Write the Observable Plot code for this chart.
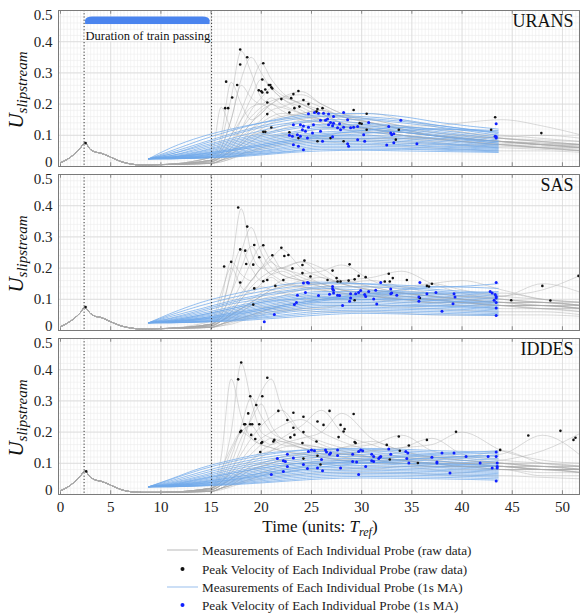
<!DOCTYPE html>
<html><head><meta charset="utf-8">
<script src="https://cdn.jsdelivr.net/npm/d3@7"></script>
<script src="https://cdn.jsdelivr.net/npm/@observablehq/plot@0.6"></script>
<style>
body{margin:0;background:#fff;}
#chart{width:580px;}
#chart svg{display:block;}
</style></head><body><div id="chart"></div><script>
const methods = ["URANS", "SAS", "IDDES"];
const passing = [2.35, 15.05];
const xTicks = [0, 5, 10, 15, 20, 25, 30, 35, 40, 45, 50];
const yTicks = [0, 0.1, 0.2, 0.3, 0.4, 0.5];
const legendLabels = [
  "Measurements of Each Individual Probe (raw data)",
  "Peak Velocity of Each Individual Probe (raw data)",
  "Measurements of Each Individual Probe (1s MA)",
  "Peak Velocity of Each Individual Probe (1s MA)"
];

// common early part of raw probe signals (nose passage)
const earlyT = [0, 1, 2, 2.4, 3, 3.5, 4, 5, 6, 7, 8, 10];
const early1 = [.012, .03, .06, .076, .054, .046, .043, .03, .016, .008, .005, .006];
const early2 = [.012, .03, .058, .074, .054, .045, .042, .028, .015, .008, .005, .006];
const early3 = [.012, .03, .06, .075, .055, .046, .043, .03, .016, .009, .007, .007];

// raw probe signals after the tail passes
const rawT = [15, 16, 17, 18, 19, 20, 21, 22, 24, 26, 28, 31, 34, 37, 40, 44, 48, 52];
const raw1 = [
  [.03,.08,.22,.37,.3,.22,.2,.19,.17,.15,.13,.11,.1,.09,.08,.07,.06,.05],
  [.03,.06,.15,.28,.35,.3,.25,.22,.18,.15,.13,.12,.1,.09,.08,.07,.06,.06],
  [.02,.05,.1,.18,.26,.33,.28,.24,.2,.17,.14,.12,.1,.09,.08,.07,.06,.05],
  [.03,.1,.27,.2,.15,.17,.2,.18,.15,.13,.12,.1,.09,.08,.07,.07,.06,.05],
  [.02,.06,.15,.26,.22,.2,.22,.2,.17,.14,.12,.11,.1,.09,.08,.07,.065,.06],
  [.02,.04,.08,.15,.22,.28,.25,.22,.19,.16,.14,.12,.1,.09,.085,.08,.07,.06],
  [.02,.04,.07,.12,.18,.22,.25,.23,.2,.17,.14,.12,.11,.1,.09,.08,.07,.065],
  [.02,.03,.06,.1,.14,.18,.2,.22,.24,.2,.17,.14,.12,.1,.09,.08,.07,.06],
  [.02,.03,.06,.1,.14,.17,.2,.22,.2,.18,.15,.13,.11,.1,.09,.08,.075,.07],
  [.015,.03,.05,.08,.12,.15,.18,.19,.21,.19,.16,.14,.12,.1,.09,.08,.07,.06],
  [.03,.19,.12,.1,.12,.14,.16,.17,.16,.15,.13,.12,.11,.1,.09,.08,.07,.07],
  [.015,.03,.05,.07,.1,.12,.14,.15,.17,.18,.16,.14,.12,.11,.1,.09,.08,.07],
  [.015,.025,.04,.06,.08,.1,.12,.13,.15,.16,.165,.17,.15,.13,.11,.1,.09,.08],
  [.01,.02,.04,.06,.08,.1,.11,.12,.14,.15,.16,.15,.13,.12,.11,.09,.08,.07],
  [.015,.03,.05,.07,.09,.11,.1,.1,.09,.09,.085,.08,.075,.07,.065,.06,.055,.05],
  [.01,.02,.04,.07,.1,.11,.125,.11,.1,.095,.09,.085,.08,.075,.07,.065,.06,.055],
  [.01,.02,.03,.05,.07,.08,.09,.1,.11,.12,.125,.13,.13,.13,.14,.15,.13,.1],
  [.01,.02,.03,.04,.06,.07,.08,.09,.1,.1,.105,.11,.11,.1,.095,.09,.085,.08],
  [.01,.015,.025,.04,.05,.06,.07,.08,.085,.09,.09,.09,.09,.09,.09,.095,.1,.09],
  [.01,.015,.025,.035,.045,.055,.06,.07,.075,.08,.075,.07,.065,.06,.055,.05,.05,.045],
  [.01,.02,.03,.04,.05,.06,.065,.07,.08,.085,.09,.09,.09,.085,.08,.075,.07,.065],
  [.02,.04,.08,.12,.16,.19,.21,.22,.23,.2,.17,.15,.13,.11,.1,.09,.08,.07],
  [.02,.05,.1,.15,.19,.2,.18,.16,.15,.14,.13,.12,.11,.1,.09,.08,.075,.07],
  [.015,.03,.05,.08,.11,.13,.15,.16,.17,.18,.16,.14,.12,.1,.09,.08,.07,.06]
];
const raw2 = [
  [.02,.06,.2,.39,.25,.2,.22,.18,.16,.14,.12,.11,.1,.09,.08,.08,.07,.06],
  [.02,.05,.12,.25,.33,.25,.2,.18,.16,.15,.13,.12,.11,.1,.09,.08,.08,.07],
  [.02,.07,.18,.26,.2,.16,.18,.2,.17,.15,.13,.11,.1,.09,.09,.08,.07,.07],
  [.02,.05,.12,.2,.27,.22,.18,.19,.16,.14,.13,.12,.11,.1,.09,.09,.08,.07],
  [.02,.04,.09,.15,.22,.27,.22,.2,.18,.15,.13,.12,.1,.1,.09,.08,.08,.07],
  [.03,.12,.2,.14,.12,.15,.17,.15,.14,.13,.12,.11,.1,.1,.09,.08,.08,.07],
  [.02,.1,.22,.18,.16,.2,.18,.16,.14,.13,.12,.11,.1,.09,.09,.08,.07,.07],
  [.02,.04,.08,.12,.16,.2,.23,.26,.2,.17,.15,.13,.12,.11,.1,.09,.08,.08],
  [.02,.04,.07,.11,.16,.2,.24,.2,.22,.18,.15,.13,.12,.11,.1,.09,.09,.08],
  [.02,.03,.06,.1,.14,.17,.19,.2,.22,.2,.16,.14,.12,.11,.1,.09,.08,.08],
  [.015,.03,.05,.08,.1,.12,.14,.16,.18,.19,.21,.16,.13,.12,.11,.1,.09,.08],
  [.015,.03,.05,.07,.09,.11,.13,.14,.15,.15,.16,.17,.19,.15,.12,.1,.09,.08],
  [.015,.03,.05,.07,.09,.11,.13,.14,.16,.17,.15,.13,.12,.11,.1,.09,.09,.08],
  [.015,.02,.04,.06,.08,.1,.11,.12,.13,.13,.14,.14,.14,.15,.13,.11,.1,.09],
  [.015,.03,.06,.1,.13,.14,.13,.12,.11,.11,.1,.1,.09,.09,.09,.08,.08,.07],
  [.01,.02,.04,.06,.08,.09,.1,.11,.13,.14,.15,.16,.14,.12,.11,.1,.09,.09],
  [.01,.02,.03,.05,.06,.07,.08,.09,.1,.1,.11,.11,.11,.1,.1,.11,.13,.18],
  [.01,.02,.03,.04,.05,.06,.07,.08,.09,.1,.1,.11,.12,.12,.11,.11,.15,.12],
  [.01,.02,.03,.04,.05,.06,.07,.07,.08,.09,.09,.09,.1,.1,.11,.12,.1,.09],
  [.01,.02,.03,.04,.05,.06,.07,.08,.09,.1,.11,.12,.13,.15,.16,.13,.1,.09],
  [.01,.015,.02,.03,.04,.05,.06,.06,.07,.07,.08,.08,.08,.08,.08,.07,.07,.06],
  [.01,.015,.025,.035,.045,.055,.06,.065,.07,.075,.08,.08,.075,.07,.065,.06,.06,.05],
  [.015,.03,.05,.07,.08,.075,.07,.065,.065,.06,.06,.06,.055,.05,.05,.05,.05,.045],
  [.015,.03,.05,.07,.09,.11,.12,.13,.14,.15,.16,.14,.12,.11,.1,.09,.09,.08]
];
const raw3 = [
  [.02,.07,.2,.42,.3,.2,.18,.16,.15,.13,.12,.11,.1,.09,.09,.08,.08,.07],
  [.02,.12,.37,.25,.18,.16,.15,.14,.13,.12,.11,.1,.1,.09,.09,.08,.08,.07],
  [.02,.04,.08,.15,.25,.33,.37,.28,.2,.16,.14,.12,.11,.1,.09,.09,.08,.07],
  [.02,.05,.12,.22,.31,.25,.2,.18,.16,.14,.13,.12,.11,.1,.1,.09,.08,.08],
  [.02,.04,.1,.18,.24,.29,.22,.18,.16,.15,.13,.12,.11,.1,.09,.09,.08,.08],
  [.02,.04,.08,.13,.18,.22,.25,.27,.2,.17,.15,.13,.12,.11,.1,.09,.09,.08],
  [.02,.06,.14,.2,.22,.18,.16,.17,.15,.14,.13,.12,.11,.1,.1,.09,.08,.08],
  [.02,.04,.07,.11,.15,.18,.2,.22,.24,.2,.17,.14,.12,.11,.1,.1,.09,.08],
  [.015,.03,.05,.08,.11,.14,.16,.18,.22,.27,.2,.16,.13,.12,.11,.1,.09,.09],
  [.015,.03,.05,.08,.1,.12,.14,.16,.18,.2,.26,.18,.14,.12,.11,.1,.09,.09],
  [.02,.08,.15,.2,.18,.16,.15,.14,.13,.12,.11,.11,.1,.1,.09,.09,.08,.08],
  [.02,.04,.07,.1,.13,.16,.18,.17,.15,.13,.12,.11,.1,.1,.09,.09,.08,.08],
  [.015,.03,.05,.07,.09,.1,.11,.12,.13,.14,.15,.16,.19,.14,.12,.1,.09,.08],
  [.01,.02,.04,.06,.08,.09,.1,.11,.12,.12,.13,.14,.15,.16,.2,.14,.11,.1],
  [.01,.02,.04,.05,.07,.08,.09,.1,.1,.11,.11,.12,.12,.12,.12,.13,.19,.12],
  [.01,.02,.03,.05,.06,.07,.08,.09,.1,.1,.1,.11,.11,.11,.1,.11,.14,.2],
  [.01,.02,.04,.06,.08,.09,.1,.11,.12,.13,.13,.14,.15,.18,.13,.11,.1,.09],
  [.015,.03,.05,.07,.09,.1,.11,.12,.13,.14,.15,.17,.14,.12,.11,.1,.1,.09],
  [.01,.02,.03,.04,.05,.06,.07,.07,.08,.08,.08,.09,.09,.09,.08,.08,.07,.07],
  [.01,.015,.025,.035,.045,.05,.055,.06,.065,.07,.07,.07,.07,.065,.06,.06,.055,.05],
  [.01,.02,.03,.05,.06,.07,.08,.09,.1,.1,.11,.11,.11,.12,.12,.14,.1,.09],
  [.015,.03,.05,.07,.08,.09,.1,.11,.11,.12,.11,.1,.1,.09,.09,.08,.08,.07],
  [.015,.03,.06,.09,.11,.13,.14,.15,.16,.15,.14,.12,.11,.1,.1,.09,.09,.08],
  [.01,.02,.03,.04,.05,.06,.07,.08,.09,.1,.09,.08,.09,.08,.07,.08,.06,.06]
];

// 1 s moving-average probe signals
const maT = [8.8, 11, 14, 17, 20, 23, 26, 30, 34, 38, 43.6];
const ma1 = [
  [.025,.06,.095,.12,.14,.155,.165,.16,.15,.13,.11],
  [.025,.05,.085,.115,.14,.16,.17,.17,.16,.14,.12],
  [.025,.045,.075,.105,.13,.15,.16,.155,.145,.13,.105],
  [.025,.04,.07,.1,.125,.14,.15,.15,.14,.125,.1],
  [.025,.04,.065,.09,.115,.135,.145,.14,.13,.115,.095],
  [.025,.035,.06,.085,.105,.125,.135,.135,.125,.11,.09],
  [.025,.035,.055,.08,.1,.12,.13,.13,.12,.105,.085],
  [.025,.033,.05,.075,.095,.11,.125,.125,.115,.1,.08],
  [.025,.03,.048,.07,.09,.105,.12,.12,.11,.095,.08],
  [.025,.03,.045,.065,.085,.1,.11,.115,.11,.095,.075],
  [.025,.03,.042,.06,.08,.095,.105,.11,.1,.09,.075],
  [.025,.028,.04,.055,.075,.09,.1,.1,.095,.085,.07],
  [.025,.028,.038,.052,.07,.085,.095,.095,.09,.08,.068],
  [.025,.027,.035,.05,.065,.08,.09,.09,.085,.075,.065],
  [.025,.027,.033,.045,.06,.075,.085,.085,.08,.072,.062],
  [.025,.026,.032,.042,.055,.07,.08,.08,.075,.07,.06],
  [.025,.026,.03,.04,.05,.065,.075,.075,.07,.065,.058],
  [.025,.025,.03,.038,.048,.06,.07,.07,.068,.062,.055],
  [.025,.025,.028,.035,.045,.055,.065,.065,.063,.058,.052],
  [.025,.025,.028,.033,.042,.05,.06,.06,.058,.055,.05],
  [.025,.025,.027,.032,.04,.048,.055,.055,.055,.052,.047],
  [.025,.025,.027,.03,.037,.045,.05,.052,.05,.048,.045],
  [.025,.03,.04,.055,.07,.085,.1,.115,.125,.12,.11],
  [.025,.028,.035,.05,.065,.08,.095,.105,.115,.12,.115]
];
const ma2 = [
  [.025,.055,.09,.115,.135,.15,.155,.15,.14,.13,.12],
  [.025,.05,.08,.105,.125,.14,.15,.15,.145,.14,.15],
  [.025,.045,.07,.095,.115,.13,.14,.14,.135,.125,.115],
  [.025,.04,.065,.09,.11,.125,.135,.13,.125,.12,.11],
  [.025,.038,.06,.085,.1,.115,.125,.125,.12,.115,.105],
  [.025,.035,.055,.075,.095,.11,.12,.12,.115,.11,.1],
  [.025,.033,.05,.07,.09,.105,.115,.115,.11,.105,.095],
  [.025,.03,.047,.065,.085,.1,.11,.11,.105,.1,.09],
  [.025,.03,.044,.06,.08,.095,.105,.105,.1,.095,.085],
  [.025,.028,.04,.056,.075,.09,.1,.1,.095,.09,.08],
  [.025,.028,.038,.052,.07,.085,.095,.095,.09,.085,.075],
  [.025,.027,.036,.048,.065,.08,.09,.09,.085,.08,.072],
  [.025,.027,.034,.045,.06,.075,.085,.085,.08,.078,.07],
  [.025,.026,.032,.042,.055,.07,.08,.08,.078,.075,.066],
  [.025,.026,.03,.04,.05,.065,.075,.075,.072,.07,.062],
  [.025,.025,.029,.037,.047,.06,.068,.07,.068,.065,.058],
  [.025,.025,.028,.034,.043,.053,.062,.065,.063,.06,.054],
  [.025,.025,.027,.032,.04,.048,.056,.06,.058,.055,.05],
  [.025,.025,.027,.03,.036,.043,.05,.055,.053,.05,.048],
  [.025,.03,.04,.055,.07,.085,.1,.115,.13,.14,.135],
  [.025,.028,.036,.05,.065,.08,.095,.11,.12,.12,.125],
  [.025,.032,.05,.07,.09,.1,.105,.1,.1,.095,.09]
];
const ma3 = [
  [.025,.05,.085,.11,.13,.14,.145,.145,.14,.135,.13],
  [.025,.048,.08,.105,.125,.138,.145,.148,.145,.14,.135],
  [.025,.044,.072,.097,.117,.13,.138,.14,.135,.13,.122],
  [.025,.04,.066,.09,.11,.123,.132,.134,.13,.124,.115],
  [.025,.037,.06,.084,.103,.117,.126,.128,.124,.118,.11],
  [.025,.035,.056,.078,.097,.11,.12,.122,.118,.112,.104],
  [.025,.033,.052,.072,.09,.104,.113,.116,.112,.106,.098],
  [.025,.031,.048,.067,.084,.098,.107,.11,.106,.1,.092],
  [.025,.03,.045,.062,.079,.092,.101,.104,.1,.095,.088],
  [.025,.029,.042,.058,.074,.087,.096,.099,.095,.09,.083],
  [.025,.028,.039,.054,.069,.082,.09,.093,.09,.086,.079],
  [.025,.027,.037,.05,.064,.077,.085,.088,.085,.081,.075],
  [.025,.027,.035,.047,.06,.072,.08,.083,.08,.077,.071],
  [.025,.026,.033,.044,.056,.067,.075,.078,.076,.073,.067],
  [.025,.026,.031,.041,.052,.062,.07,.073,.071,.068,.063],
  [.025,.025,.03,.038,.048,.058,.065,.068,.067,.064,.059],
  [.025,.025,.029,.035,.044,.053,.06,.063,.062,.06,.055],
  [.025,.025,.028,.033,.04,.048,.055,.058,.057,.055,.05],
  [.025,.025,.027,.031,.037,.044,.05,.053,.052,.05,.046],
  [.025,.03,.04,.054,.068,.082,.096,.11,.122,.13,.14],
  [.025,.028,.035,.047,.06,.074,.088,.1,.11,.118,.125],
  [.025,.032,.05,.068,.085,.097,.104,.104,.1,.097,.094]
];

// peak velocity of each probe (raw) [t, U]
const peaksRaw1 = [[2.5,.075],[16.5,.272],[16.4,.187],[16.7,.187],[17.1,.221],[17.6,.261],[17.9,.375],[17.9,.327],[18.6,.35],[20.2,.331],[20.1,.279],[19.75,.244],[20,.241],[20.1,.237],[20.4,.247],[20.6,.237],[20.9,.261],[21,.254],[21.1,.25],[20.75,.261],[20.6,.205],[20.2,.111],[20.4,.111],[21,.125],[20.6,.168],[22,.216],[22.8,.173],[22.8,.11],[22.98,.219],[23.2,.232],[23.7,.242],[24.2,.213],[24.7,.2],[23.3,.187],[23.8,.192],[25.6,.184],[26.1,.187],[25.5,.176],[29.2,.181],[30.5,.169],[29.8,.139],[30,.137],[30.5,.118],[33.7,.118],[33.4,.086],[23.7,.091],[26.9,.091],[28.2,.081],[25.6,.081],[43.3,.158],[42.9,.118],[47.9,.107]];
const peaksRaw2 = [[2.5,.075],[17.7,.394],[18.6,.333],[17.9,.26],[18.4,.256],[19.3,.274],[20.2,.273],[16.3,.205],[17,.22],[18.5,.213],[19.2,.211],[19.8,.235],[21.1,.241],[22,.265],[22.3,.239],[22.7,.242],[17.9,.154],[19.3,.135],[20.2,.158],[20.6,.162],[21.4,.143],[22.2,.162],[19.2,.083],[23.1,.199],[24.1,.21],[24.3,.224],[24.1,.184],[24.9,.173],[27.1,.192],[28.8,.212],[26.6,.162],[27.6,.157],[27.9,.157],[28.7,.16],[29.3,.164],[29.7,.175],[30.4,.171],[27.5,.168],[32.7,.182],[32.3,.157],[32.8,.157],[33.1,.168],[34.5,.162],[36.5,.143],[36.7,.141],[37,.15],[35.8,.104],[29.3,.097],[44.9,.097],[48,.143],[48.8,.096],[51.6,.175]];
const peaksRaw3 = [[2.56,.074],[17.7,.369],[18,.423],[18.9,.315],[20.1,.315],[20.6,.374],[19.5,.287],[18.7,.26],[18.3,.225],[18.4,.225],[18.9,.225],[19.1,.225],[19.8,.225],[18,.204],[17.9,.2],[19,.191],[19.4,.178],[20,.165],[20.1,.168],[19.9,.136],[21.2,.17],[21.3,.175],[21.7,.268],[22.6,.239],[23.2,.262],[24.2,.249],[23.2,.214],[23.3,.191],[22.9,.183],[24.2,.2],[25.6,.234],[26.2,.223],[26.8,.268],[27.9,.223],[28.3,.21],[28.2,.202],[27.7,.184],[29.2,.258],[29.3,.168],[29.4,.165],[24.1,.165],[25.5,.17],[25.6,.124],[24.2,.115],[25.9,.096],[32.5,.159],[33.7,.186],[34.7,.157],[33.8,.14],[32.8,.112],[35.6,.101],[36.5,.175],[39.4,.201],[43.8,.143],[46.6,.189],[49.8,.204],[51.1,.175],[51.3,.182]];

// peak velocity of each probe (1s MA) [t, U]
const peaksMA1 = [[24.7,.169],[25.3,.173],[25.7,.171],[26.2,.171],[26.7,.168],[27.2,.16],[28.2,.173],[26.6,.152],[26.4,.148],[25.9,.148],[26.9,.141],[27.2,.139],[27.1,.131],[26.7,.134],[25.2,.134],[24.7,.126],[24.2,.13],[23.9,.134],[23.2,.134],[27.6,.124],[28.9,.124],[29.2,.126],[29.6,.128],[30.7,.141],[33.9,.148],[32.7,.128],[32.9,.107],[33.2,.105],[33,.102],[28.6,.15],[25.9,.113],[25.1,.107],[24.4,.113],[24.1,.118],[23.6,.102],[23.9,.097],[23.1,.097],[24.6,.091],[26.1,.081],[27.1,.095],[28.6,.073],[28.7,.065],[29.6,.086],[30.2,.102],[30.3,.081],[33.2,.076],[32.5,.069],[35.5,.073],[23.2,.07],[23.7,.065],[24.2,.054],[27.9,.118],[28.2,.126],[27.8,.137],[43.4,.137],[43.4,.095],[43.4,.091],[43.3,.097],[22.8,.1]];
const peaksMA2 = [[21.3,.051],[20.3,.028],[24.2,.152],[24.6,.154],[24.7,.152],[23.6,.113],[24.4,.122],[23.3,.083],[23.5,.09],[25.7,.112],[26.8,.116],[27.2,.12],[27.1,.141],[27.1,.133],[27.6,.113],[27.8,.112],[27.2,.129],[28.9,.118],[28.9,.104],[28.8,.094],[29.4,.118],[29.7,.122],[29.9,.128],[30.3,.115],[30.4,.109],[30.7,.125],[31.4,.129],[31.2,.101],[31.5,.085],[31.9,.154],[32.9,.133],[32.9,.118],[33,.12],[33.5,.113],[35.7,.107],[35.7,.094],[35.8,.154],[36.5,.118],[37.4,.122],[38,.062],[39.1,.086],[39.2,.118],[39.3,.107],[42.8,.125],[43,.12],[43.2,.097],[43.3,.115],[43.4,.154],[43.4,.109],[43.4,.104],[43.4,.09],[43.4,.072],[43.4,.048],[28.1,.08]];
const peaksMA3 = [[21.6,.115],[22.2,.108],[22.4,.106],[22.6,.129],[22.6,.09],[22.2,.074],[21,.064],[24.7,.138],[25,.143],[25.3,.14],[26.4,.143],[26.8,.129],[27.6,.143],[27.6,.125],[29.1,.129],[29.7,.138],[29.9,.143],[30.1,.14],[31,.129],[31.2,.122],[31.8,.119],[31.7,.115],[32.7,.146],[32.9,.129],[34.4,.138],[34.6,.133],[34.5,.115],[37,.119],[37.5,.104],[37.5,.101],[38,.133],[39.2,.133],[40.4,.122],[41.8,.101],[42.6,.122],[43,.085],[43.4,.136],[43.4,.122],[43.5,.101],[43.5,.09],[43.5,.085],[43.4,.043],[23.2,.117],[24.2,.096],[24.6,.083],[25.6,.085],[26,.112],[26.1,.076],[27.9,.085],[29.1,.106],[29.5,.104],[30.4,.09],[29.7,.064],[31.2,.106],[34.7,.101],[38.8,.069],[26.5,.136],[26.9,.133],[31,.108],[31.9,.122]];

const early = [early1, early2, early3];
const raws = [raw1, raw2, raw3];
const mas = [ma1, ma2, ma3];
const peaksRaw = [peaksRaw1, peaksRaw2, peaksRaw3];
const peaksMA = [peaksMA1, peaksMA2, peaksMA3];

const SERIF = "'Liberation Serif', 'DejaVu Serif', serif";
const minorX = d3.range(0, 52, 1/3);
const minorY = d3.range(0, 0.5, 0.02);
const fmtY = d => d === 0 ? "0" : d3.format(".1f")(d);
const chart = document.getElementById("chart");

function panel(i) {
  const last = i === 2;
  const mt = i === 0 ? 10 : 2;
  const mb = last ? 22 : 6;
  const H = mt + 156 + mb;
  const rawData = raws[i].flatMap((vals, k) => [
    ...earlyT.map((t, j) => ({k, t, v: early[i][j]})),
    ...rawT.map((t, j) => ({k, t, v: vals[j]}))
  ]);
  const maData = mas[i].flatMap((vals, k) => maT.map((t, j) => ({k, t, v: vals[j]})));
  const axisText = {tickSize: 0, tickPadding: 6, tickFormat: fmtY, fontSize: 15, fontFamily: SERIF, fill: "#222", label: null};
  const marks = [
    Plot.ruleX(minorX, {stroke: "#ececec", strokeWidth: 0.6}),
    Plot.ruleY(minorY, {stroke: "#ececec", strokeWidth: 0.6}),
    Plot.ruleX(xTicks, {stroke: "#d9d9d9", strokeWidth: 0.8}),
    Plot.ruleY(yTicks, {stroke: "#d9d9d9", strokeWidth: 0.8}),
    Plot.ruleX(xTicks, {y1: 0, y2: 0.012, stroke: "#888"}),
    Plot.ruleX(xTicks, {y1: 0.488, y2: 0.5, stroke: "#888"}),
    Plot.line(rawData, {x: "t", y: "v", z: "k", stroke: "#a8a8a8", strokeWidth: 0.7, strokeOpacity: 0.6, curve: "monotone-x", clip: true}),
    Plot.line(maData, {x: "t", y: "v", z: "k", stroke: "#6fa8ea", strokeWidth: 0.9, strokeOpacity: 0.8, curve: "monotone-x", clip: true}),
    Plot.dot(peaksRaw[i], {x: d => d[0], y: d => d[1], r: 1.3, fill: "#111", stroke: null}),
    Plot.dot(peaksMA[i], {x: d => d[0], y: d => d[1], r: 1.5, fill: "#1020ff", stroke: null}),
    Plot.ruleX(passing, {stroke: "#222", strokeWidth: 0.9, strokeDasharray: "1.2,2"}),
    Plot.frame({stroke: "#7a7a7a"}),
    Plot.text([methods[i]], {frameAnchor: "top-right", dx: -6, dy: 4, fontSize: 18, fontFamily: SERIF, fill: "#111"}),
    Plot.axisY([0.1, 0.2, 0.3, 0.4], axisText),
    Plot.axisY([0.5], {...axisText, dy: 5}),
    Plot.axisY([0], {...axisText, dy: -4})
  ];
  if (i === 0) {
    marks.push(
      Plot.rect([0], {x1: 2.5, x2: 14.9, y1: 0.456, y2: 0.479, fill: "#4a84ee", rx: 7}),
      Plot.rect([0], {x1: 2.5, x2: 14.9, y1: 0.455, y2: 0.466, fill: "#4a84ee"}),
      Plot.rect([0], {x1: 2.45, x2: 14.95, y1: 0.4, y2: 0.434, fill: "white"}),
      Plot.text(["Duration of train passing"], {x: 8.7, y: 0.417, fontSize: 12.5, fontFamily: SERIF, fill: "#111"})
    );
  }
  if (last) {
    marks.push(Plot.axisX(xTicks, {tickSize: 0, tickPadding: 7, fontSize: 15, fontFamily: SERIF, fill: "#222", label: null}));
  }
  const p = Plot.plot({
    width: 580, height: H,
    marginLeft: 58, marginRight: 1, marginTop: mt, marginBottom: mb,
    x: {domain: [-0.2, 51.7], ...(last ? {} : {axis: null})},
    y: {domain: [0, 0.5]},
    style: {fontFamily: SERIF, background: "white"},
    marks
  });
  const svg = d3.select(p.tagName === "svg" ? p : p.querySelector("svg"));
  const lab = svg.append("text")
    .attr("transform", `translate(23,${mt + 80}) rotate(-90)`)
    .attr("text-anchor", "middle")
    .attr("font-family", SERIF).attr("font-style", "italic").attr("fill", "#111");
  lab.append("tspan").attr("font-size", 21).text("U");
  lab.append("tspan").attr("font-size", 15).attr("dy", 4).text("slipstream");
  chart.appendChild(p);
}
[0, 1, 2].forEach(panel);

// axis title and legend
const foot = d3.select(chart).append("svg").attr("width", 580).attr("height", 99)
  .style("display", "block").attr("font-family", SERIF);
const title = foot.append("text").attr("x", 320).attr("y", 16).attr("text-anchor", "middle")
  .attr("font-size", 17).attr("fill", "#111");
title.append("tspan").text("Time (units: ");
title.append("tspan").attr("font-style", "italic").text("T");
title.append("tspan").attr("font-style", "italic").attr("font-size", 12).attr("dy", 4).text("ref");
title.append("tspan").attr("dy", -4).text(")");
const rowsY = [34, 53, 71, 89];
const kinds = ["line", "dot", "line", "dot"];
const cols = ["#c4c4c4", "#111", "#a9c9f0", "#1020ff"];
legendLabels.forEach((lbl, k) => {
  const y = rowsY[k];
  if (kinds[k] === "line") foot.append("line").attr("x1", 167).attr("x2", 198).attr("y1", y).attr("y2", y).attr("stroke", cols[k]).attr("stroke-width", 1.2);
  else foot.append("circle").attr("cx", 182.5).attr("cy", y).attr("r", 2).attr("fill", cols[k]);
  foot.append("text").attr("x", 202).attr("y", y).attr("dy", "0.35em").attr("font-size", 13.2).attr("fill", "#222").text(lbl);
});
</script></body></html>
